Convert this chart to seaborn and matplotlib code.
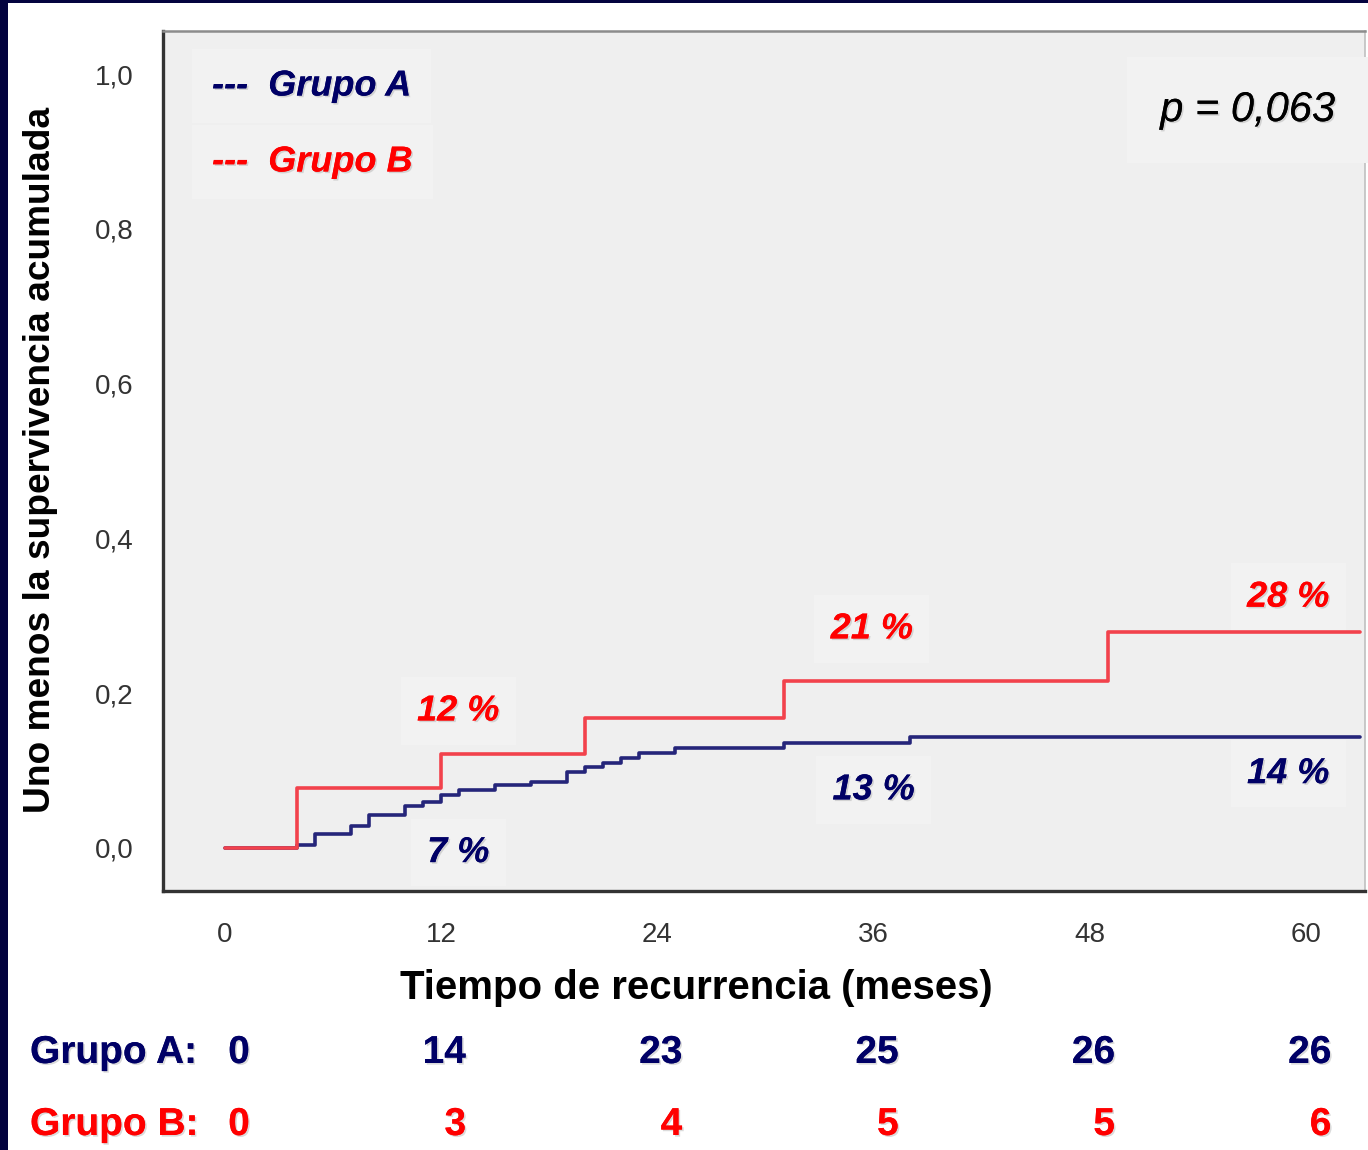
import numpy as np
import pandas as pd
import matplotlib
matplotlib.use("Agg")
import matplotlib.pyplot as plt
import matplotlib.patheffects as pe
import matplotlib.transforms as mtransforms
from matplotlib.patches import Rectangle
import seaborn as sns

# Data (cumulative incidence, Kaplan-Meier steps)
time_a = [0, 4, 5, 7, 8, 10, 11, 12, 13, 15, 17, 19, 20, 21, 22, 23, 25, 31, 38, 63]
cum_a = [0, 0.004, 0.018, 0.028, 0.043, 0.054, 0.059, 0.069, 0.075, 0.081,
         0.085, 0.098, 0.104, 0.110, 0.116, 0.123, 0.129, 0.136, 0.144, 0.144]
time_b = [0, 4, 12, 20, 31, 49, 63]
cum_b = [0, 0.078, 0.121, 0.168, 0.216, 0.279, 0.279]

# percentage labels
labels_a = ["7 %", "13 %", "14 %"]
labels_a_pos = [(12.95, -0.006), (36.0, 0.075), (59.0, 0.096)]
labels_b = ["12 %", "21 %", "28 %"]
labels_b_pos = [(12.95, 0.177), (35.9, 0.283), (59.0, 0.324)]

# events table below the chart
table_months = [0, 12, 24, 36, 48, 60]
events_a = [0, 14, 23, 25, 26, 26]
events_b = [0, 3, 4, 5, 5, 6]

x_ticks = [0, 12, 24, 36, 48, 60]
y_ticks = [0.0, 0.2, 0.4, 0.6, 0.8, 1.0]

NAVY = "#000066"
RED = "#ff0000"
LINE_A = "#25257a"
LINE_B = "#f2424c"

df = pd.concat([
    pd.DataFrame({"t": time_a, "v": cum_a, "grupo": "Grupo A"}),
    pd.DataFrame({"t": time_b, "v": cum_b, "grupo": "Grupo B"}),
])

sns.set_style("white")
plt.rcParams["font.family"] = ["Liberation Sans", "DejaVu Sans"]

fig = plt.figure(figsize=(13.68, 11.5), dpi=100)
fig.patch.set_facecolor("white")
ax = fig.add_axes([163 / 1368, 1 - 891 / 1150, (1365 - 163) / 1368, (891 - 31) / 1150])
ax.set_facecolor("#efefef")

sns.lineplot(data=df, x="t", y="v", hue="grupo", palette={"Grupo A": LINE_A, "Grupo B": LINE_B},
             hue_order=["Grupo A", "Grupo B"], drawstyle="steps-post", estimator=None,
             sort=False, linewidth=2.6, legend=False, ax=ax)

ax.set_xlim(-3.43, 63.26)
ax.set_ylim(-0.0556, 1.0556)
ax.set_xticks(x_ticks)
ax.set_xticklabels([str(x) for x in x_ticks])
ax.set_yticks(y_ticks)
ax.set_yticklabels([f"{y:.1f}".replace(".", ",") for y in y_ticks])
ax.tick_params(axis="both", direction="out", length=16, width=2.2, color="#333333",
               labelsize=20, labelcolor="#333333")
ax.tick_params(axis="x", pad=6)
ax.tick_params(axis="y", pad=5)
ax.set_xlabel("")
ax.set_ylabel("")

for side in ["left", "bottom"]:
    ax.spines[side].set_color("#333333")
    ax.spines[side].set_linewidth(2.4)
ax.spines["top"].set_color("#8c8c8c")
ax.spines["top"].set_linewidth(1.8)
ax.spines["right"].set_color("#c0c0c0")
ax.spines["right"].set_linewidth(1.2)

shadow = [pe.withSimplePatchShadow(offset=(1.2, -1.2), shadow_rgbFace="#999999", alpha=0.35), pe.Normal()]
box = dict(boxstyle="square,pad=0.45", facecolor="#f2f2f2", edgecolor="none")

for txt, (x, y) in zip(labels_a, labels_a_pos):
    ax.text(x, y, txt, color=NAVY, fontsize=26, fontweight="bold", fontstyle="italic",
            ha="center", va="center", bbox=box, path_effects=shadow, zorder=1)
for txt, (x, y) in zip(labels_b, labels_b_pos):
    ax.text(x, y, txt, color=RED, fontsize=26, fontweight="bold", fontstyle="italic",
            ha="center", va="center", bbox=box, path_effects=shadow, zorder=1)

# legend-like texts
legbox = dict(boxstyle="square,pad=0.55", facecolor="#f2f2f2", edgecolor="none")
ax.text(0.0408, 0.936, "---  Grupo A", transform=ax.transAxes, color=NAVY, fontsize=26,
        fontweight="bold", fontstyle="italic", ha="left", va="center", bbox=legbox,
        path_effects=shadow)
ax.text(0.0408, 0.8477, "---  Grupo B", transform=ax.transAxes, color=RED, fontsize=26,
        fontweight="bold", fontstyle="italic", ha="left", va="center", bbox=legbox,
        path_effects=shadow)
ax.text(0.975, 0.908, "p = 0,063", transform=ax.transAxes, color="black", fontsize=30,
        fontstyle="italic", ha="right", va="center",
        bbox=dict(boxstyle="square,pad=0.8", facecolor="#f2f2f2", edgecolor="none"),
        path_effects=shadow)

# axis titles
fig.text(41 / 1368, 1 - 460 / 1150, "Uno menos la supervivencia acumulada", rotation=90,
         fontsize=26.7, fontweight="bold", color="black", ha="center", va="center")
fig.text((401 + 992) / 2 / 1368, 1 - 988 / 1150, "Tiempo de recurrencia (meses)",
         fontsize=28.9, fontweight="bold", color="black", ha="center", va="center")

# events table
fig.text(30 / 1368, 1 - 1053 / 1150, "Grupo A:", fontsize=28, fontweight="bold", color=NAVY,
         ha="left", va="center", path_effects=shadow)
fig.text(30 / 1368, 1 - 1125 / 1150, "Grupo B:", fontsize=28, fontweight="bold", color=RED,
         ha="left", va="center", path_effects=shadow)
trans = mtransforms.blended_transform_factory(ax.transData, fig.transFigure)
trans = trans + mtransforms.ScaledTranslation(0.25, 0, fig.dpi_scale_trans)
for m, a, b in zip(table_months, events_a, events_b):
    fig.text(m, 1 - 1053 / 1150, str(a), transform=trans, fontsize=28, fontweight="bold",
             color=NAVY, ha="right", va="center", path_effects=shadow)
    fig.text(m, 1 - 1125 / 1150, str(b), transform=trans, fontsize=28, fontweight="bold",
             color=RED, ha="right", va="center", path_effects=shadow)

# slide frame (dark navy strips at top and left)
fig.patches.append(Rectangle((0, 0), 8 / 1368, 1, transform=fig.transFigure,
                             facecolor="#03033f", edgecolor="none", zorder=0))
fig.patches.append(Rectangle((0, 1 - 3 / 1150), 1, 3 / 1150, transform=fig.transFigure,
                             facecolor="#03033f", edgecolor="none", zorder=0))

fig.savefig("out.png", dpi=100)
